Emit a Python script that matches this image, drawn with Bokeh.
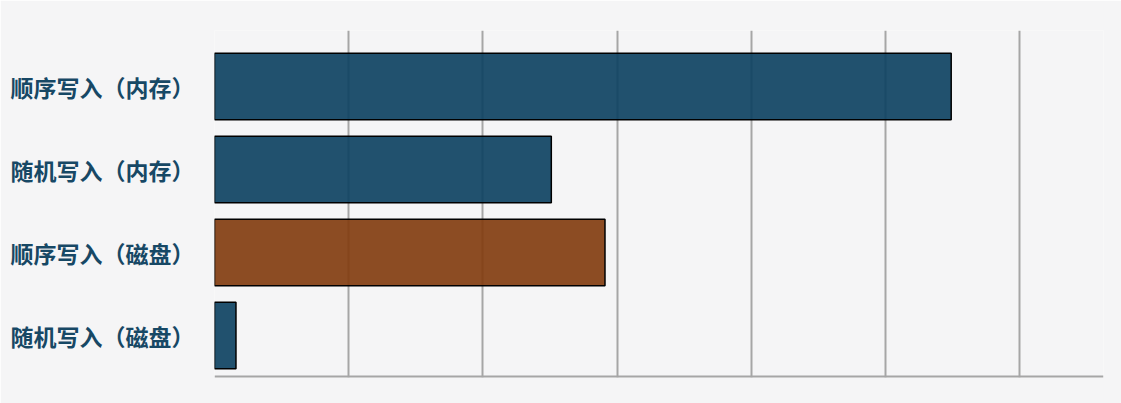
from bokeh.plotting import figure
from bokeh.models import ColumnDataSource, Range1d, FixedTicker, Span
from bokeh.embed import file_html
from bokeh.resources import INLINE

categories = ["顺序写入（内存）", "随机写入（内存）", "顺序写入（磁盘）", "随机写入（磁盘）"]
values = [5.49, 2.51, 2.91, 0.16]
colors = ["#0e4262", "#0e4262", "#823d10", "#0e4262"]
positions = [4, 3, 2, 1]
grid_ticks = [0, 1, 2, 3, 4, 5, 6]

src = ColumnDataSource(dict(y=positions, right=values, color=colors, name=categories))

y_start = 0.494
p = figure(width=1121, height=403, output_backend="svg", toolbar_location=None,
           x_range=Range1d(0, 6.625), y_range=Range1d(y_start, 4.675),
           min_border_left=214, min_border_right=18, min_border_top=30, min_border_bottom=26)

bg = "#f5f5f6"
p.background_fill_color = bg
p.border_fill_color = bg
p.outline_line_color = None

p.hbar(y="y", left=0, right="right", height=0.8, fill_color="color", fill_alpha=0.92,
       line_color="#000000", line_width=1.5, source=src)

# x axis hidden; baseline drawn as a span at the bottom of the range
p.xaxis.visible = False
p.add_layout(Span(location=y_start + 0.01, dimension="width", line_color="#a6a6a6", line_width=2.5))

p.xgrid.ticker = FixedTicker(ticks=grid_ticks)
p.xgrid.grid_line_color = "#a6a6a6"
p.xgrid.grid_line_width = 2
p.ygrid.grid_line_color = None

p.yaxis.ticker = FixedTicker(ticks=positions)
p.yaxis.major_label_overrides = {pos: name for pos, name in zip(positions, categories)}
p.yaxis.axis_line_color = None
p.yaxis.major_tick_line_color = None
p.yaxis.minor_tick_line_color = None
p.yaxis.major_tick_in = 0
p.yaxis.major_tick_out = 0
p.yaxis.major_label_standoff = 20
p.yaxis.major_label_text_font = "Noto Sans CJK SC"
p.yaxis.major_label_text_font_style = "bold"
p.yaxis.major_label_text_font_size = "23px"
p.yaxis.major_label_text_color = "#174865"

html = file_html(p, INLINE)
html = html.replace("<body>", '<body style="background:%s">' % bg, 1)
open("out.html", "w").write(html)
